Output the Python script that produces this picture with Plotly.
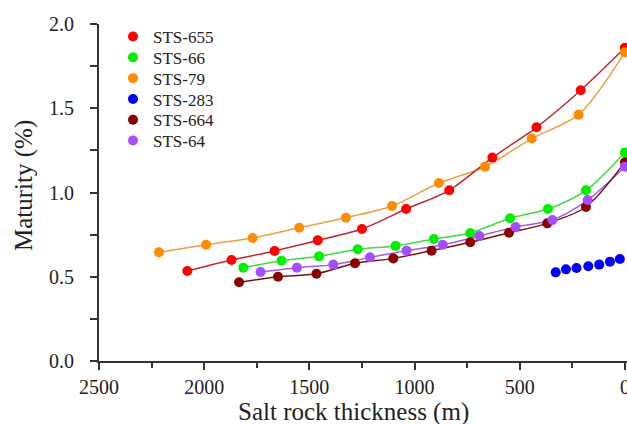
import plotly.graph_objects as go

# ---- data ----
names = ["STS-655", "STS-66", "STS-79", "STS-283", "STS-664", "STS-64"]

x_655 = [2080, 1870, 1665, 1460, 1250, 1040, 835, 630, 420, 210, 0]
y_655 = [0.534, 0.599, 0.653, 0.716, 0.783, 0.902, 1.013, 1.207, 1.387, 1.607, 1.859]

x_66 = [1814, 1632, 1454, 1270, 1090, 908, 735, 546, 366, 185, 0]
y_66 = [0.554, 0.595, 0.621, 0.663, 0.683, 0.724, 0.760, 0.847, 0.902, 1.013, 1.238]

x_79 = [2215, 1991, 1770, 1548, 1326, 1107, 884, 665, 443, 220, 0]
y_79 = [0.645, 0.690, 0.730, 0.791, 0.850, 0.920, 1.056, 1.153, 1.320, 1.462, 1.832]

x_283 = [329, 280, 230, 174, 122, 71, 24, -25]
y_283 = [0.526, 0.544, 0.552, 0.562, 0.572, 0.589, 0.605, 0.620]

x_664 = [1834, 1649, 1466, 1283, 1101, 919, 735, 551, 369, 185, 0]
y_664 = [0.467, 0.500, 0.518, 0.580, 0.609, 0.655, 0.705, 0.761, 0.817, 0.914, 1.180]

x_64 = [1732, 1559, 1386, 1212, 1038, 866, 692, 520, 345, 177, 0]
y_64 = [0.528, 0.554, 0.572, 0.615, 0.655, 0.690, 0.742, 0.795, 0.837, 0.955, 1.153]

x_ticks = [2500, 2000, 1500, 1000, 500, 0]
y_ticks = [0.0, 0.5, 1.0, 1.5, 2.0]
y_ticklabels = ["0.0", "0.5", "1.0", "1.5", "2.0"]

series = {
    "STS-655": (x_655, y_655),
    "STS-66": (x_66, y_66),
    "STS-79": (x_79, y_79),
    "STS-283": (x_283, y_283),
    "STS-664": (x_664, y_664),
    "STS-64": (x_64, y_64),
}

marker_colors = {
    "STS-655": "#ff0000",
    "STS-66": "#00f000",
    "STS-79": "#ff8c00",
    "STS-283": "#0000ff",
    "STS-664": "#8b0000",
    "STS-64": "#a64dff",
}
line_colors = {
    "STS-655": "#c0282e",
    "STS-66": "#3ddc3d",
    "STS-79": "#eea040",
    "STS-283": None,
    "STS-664": "#7a1010",
    "STS-64": "#a060e0",
}

FONT = "Liberation Serif, Times New Roman, serif"
AXC = "#333333"
TXT = "#222222"

# plot area in pixels
L, R, T, B = 99, 627, 24, 361
W, H = 627, 424

fig = go.Figure()

# fitted curves (no legend)
for n in ["STS-79", "STS-655", "STS-66", "STS-64", "STS-664"]:
    xs, ys = series[n]
    fig.add_trace(go.Scatter(
        x=xs, y=ys, mode="lines",
        line=dict(color=line_colors[n], width=1.5, shape="spline", smoothing=0.8),
        showlegend=False, hoverinfo="skip", cliponaxis=False,
    ))

# points; each legend entry in its own legend box so the row spacing matches
legend_layout = {}
for i, n in enumerate(names):
    key = "legend" if i == 0 else f"legend{i + 1}"
    xs, ys = series[n]
    fig.add_trace(go.Scatter(
        x=xs, y=ys, mode="markers", name=n, legend=key,
        marker=dict(color=marker_colors[n], size=10, line=dict(width=0)),
        cliponaxis=False,
    ))
    cy = 37 + i * 20.8  # row centre in pixels
    legend_layout[key] = dict(
        x=(113 - L) / (R - L), y=(B - cy) / (B - T),
        xanchor="left", yanchor="middle",
        bgcolor="rgba(0,0,0,0)", borderwidth=0,
        font=dict(family=FONT, size=17, color=TXT),
    )

fig.update_layout(
    width=W, height=H,
    margin=dict(l=L, r=W - R, t=T, b=H - B, autoexpand=False),
    paper_bgcolor="white", plot_bgcolor="white",
    font=dict(family=FONT, color=TXT, size=16),
    showlegend=True,
    xaxis=dict(
        range=[2500, -10], tickvals=x_ticks, automargin=False,
        ticklabeloverflow="allow",
        showgrid=False, zeroline=False,
        showline=True, linecolor=AXC, linewidth=2,
        ticks="outside", ticklen=7, tickwidth=2, tickcolor=AXC,
        minor=dict(dtick=250, tick0=0, ticks="outside", ticklen=5, tickwidth=2, tickcolor=AXC, showgrid=False),
        tickfont=dict(family=FONT, size=20, color=TXT),
    ),
    yaxis=dict(
        range=[0, 2.0], tickvals=y_ticks, ticktext=y_ticklabels, automargin=False,
        ticklabeloverflow="allow",
        showgrid=False, zeroline=False,
        showline=True, linecolor=AXC, linewidth=2,
        ticks="outside", ticklen=7, tickwidth=2, tickcolor=AXC,
        minor=dict(dtick=0.25, tick0=0, ticks="outside", ticklen=7, tickwidth=2, tickcolor=AXC, showgrid=False),
        tickfont=dict(family=FONT, size=20, color=TXT),
        ticklabelstandoff=12,
    ),
    annotations=[
        dict(text="Salt rock thickness (m)", xref="paper", yref="paper",
             x=(353 - L) / (R - L), y=(B - 412) / (B - T), xanchor="center", yanchor="middle",
             showarrow=False, font=dict(family=FONT, size=25, color=TXT)),
        dict(text="Maturity (%)", xref="paper", yref="paper",
             x=(24 - L) / (R - L), y=(B - 186) / (B - T), xanchor="center", yanchor="middle",
             textangle=-90, showarrow=False, font=dict(family=FONT, size=25, color=TXT)),
    ],
    **legend_layout,
)

fig.write_html(
    "out.html",
    config={"displayModeBar": False},
    post_script="document.body.style.margin='0px';document.body.style.overflow='hidden';",
)
